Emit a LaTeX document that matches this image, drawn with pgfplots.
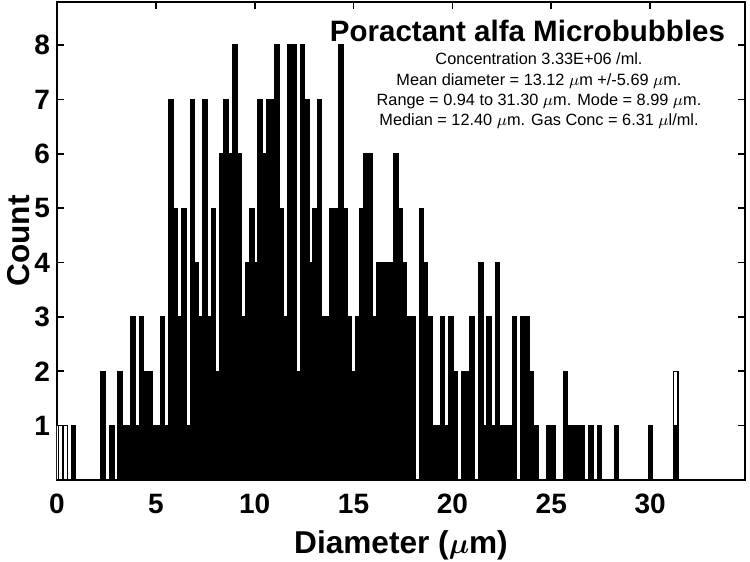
\documentclass[border=0pt]{standalone}
\usepackage{fontspec}
\setmainfont{Liberation Sans}
\usepackage{bm}
\usepackage{pgfplots}
\pgfplotsset{compat=1.18}

\begin{document}
\begin{tikzpicture}[x=1pt,y=1pt]
\useasboundingbox (-28.5,-41) rectangle (346.5,240);
\begin{axis}[
    at={(0,0)}, anchor=south west,
    scale only axis, width=344pt, height=239.15pt,
    xmin=0, xmax=34.8, ymin=0, ymax=8.8,
    xtick={0,5,...,30}, ytick={1,...,8},
    tick align=inside, major tick length=3.5pt,
    axis line style={line width=1pt},
    every tick/.style={black, line width=0.8pt},
    ticklabel style={font=\fontsize{14}{16}\selectfont\bfseries},
    xticklabel style={yshift=-3.5pt},
    /pgf/number format/assume math mode=true,
    xlabel={Diameter ($\bm{\mu}$m)}, ylabel={Count},
    label style={font=\fontsize{15.8}{19}\selectfont\bfseries},
    xlabel style={yshift=-1.5pt},
    ylabel style={yshift=-4.5pt},
]
% white (outlined) bins, drawn first
\addplot[ybar, bar width=0.2145, bar shift=0pt, fill=white, draw=black, line width=0.7pt]
coordinates {(-0.019,1) (0.196,1) (0.410,1) (31.298,2)};
% counts per bin
\addplot[ybar, bar width=0.2145, bar shift=0pt, fill=black, draw=black, line width=0.7pt]
coordinates {
(0.839,1) (2.340,2) (2.770,1) (3.199,2) (3.413,1) (3.628,1) (3.842,3) (4.057,1)
(4.271,3) (4.486,2) (4.700,2) (4.915,1) (5.129,1) (5.344,3) (5.558,1) (5.773,7)
(5.987,5) (6.202,3) (6.416,5) (6.631,1) (6.845,7) (7.060,4) (7.274,3) (7.489,7)
(7.703,3) (7.918,5) (8.132,2) (8.347,6) (8.561,7) (8.776,6) (8.990,8) (9.205,6)
(9.419,3) (9.634,4) (9.848,5) (10.063,4) (10.277,7) (10.492,6) (10.706,7) (10.921,7)
(11.135,8) (11.350,5) (11.564,3) (11.779,8) (11.993,8) (12.208,2) (12.422,8) (12.637,7)
(12.851,4) (13.066,5) (13.280,7) (13.495,3) (13.709,3) (13.924,5) (14.138,5) (14.353,8)
(14.567,5) (14.782,3) (14.996,2) (15.211,3) (15.425,5) (15.640,6) (15.854,6) (16.069,3)
(16.283,4) (16.498,4) (16.712,4) (16.927,4) (17.141,6) (17.356,5) (17.570,4) (17.785,3)
(17.999,3) (18.428,5) (18.643,4) (18.857,3) (19.072,1) (19.286,1) (19.501,3) (19.715,1)
(19.930,3) (20.144,2) (20.573,2) (20.788,2) (21.002,3) (21.431,4) (21.646,1) (21.860,3)
(22.075,1) (22.289,4) (22.504,1) (22.718,1) (22.933,1) (23.147,3) (23.576,3) (23.791,3)
(24.005,2) (24.220,1) (24.863,1) (25.078,1) (25.721,2) (25.936,1) (26.150,1) (26.365,1)
(26.579,1) (27.008,1) (27.437,1) (28.295,1) (30.011,1) (31.298,1)
};
\end{axis}
\node[anchor=base, font=\fontsize{14.75}{17}\selectfont\bfseries] at (235.25,219.15) {Poractant alfa Microbubbles};
\node[anchor=base, font=\fontsize{8.15}{10}\selectfont] at (241,207.5) {Concentration 3.33E+06 /ml.};
\node[anchor=base, font=\fontsize{8.15}{10}\selectfont] at (241,197) {Mean diameter = 13.12 $\mu$m +/-5.69 $\mu$m.};
\node[anchor=base, font=\fontsize{8.15}{10}\selectfont] at (241,187) {Range = 0.94 to 31.30 $\mu$m. Mode = 8.99 $\mu$m.};
\node[anchor=base, font=\fontsize{8.15}{10}\selectfont] at (241,177) {Median = 12.40 $\mu$m. Gas Conc = 6.31 $\mu$l/ml.};
\end{tikzpicture}
\end{document}
